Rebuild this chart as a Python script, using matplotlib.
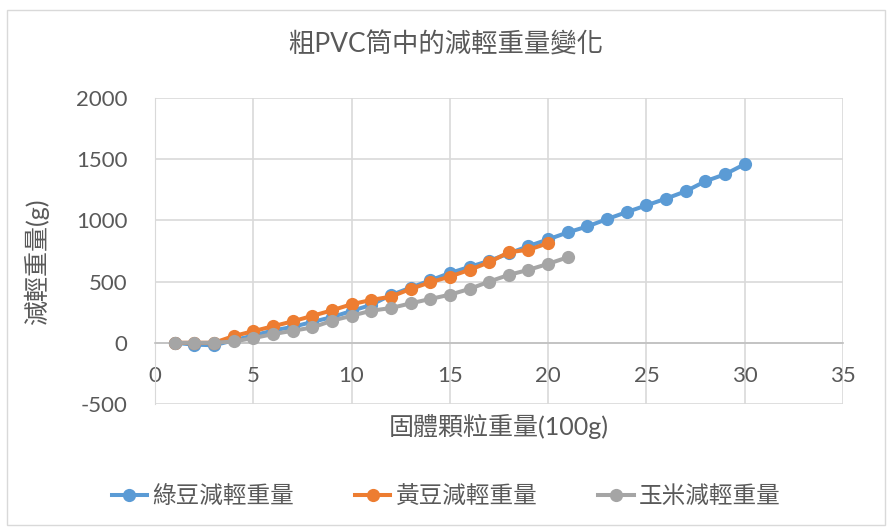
import matplotlib
matplotlib.use('Agg')
import matplotlib.pyplot as plt
from matplotlib.patches import Rectangle

plt.rcParams['font.family'] = ['Lato', 'Noto Sans CJK TC', 'DejaVu Sans']
plt.rcParams['axes.unicode_minus'] = False

# 固體顆粒重量 (100g)
mung_x = list(range(1, 31))
soy_x = list(range(1, 21))
corn_x = list(range(1, 22))

# 減輕重量 (g)
mung = [0, -15, -20, 20, 60, 100, 130, 170, 210, 260,
        310, 390, 450, 510, 570, 620, 670, 730, 790, 845,
        902, 951, 1011, 1068, 1123, 1178, 1238, 1320, 1377, 1459]
soy = [0, 0, 0, 55, 95, 135, 175, 220, 265, 315,
       350, 377, 440, 494, 541, 596, 658, 740, 760, 814]
corn = [0, 0, 0, 11, 38, 71, 98, 125, 180, 221,
        262, 284, 322, 358, 393, 440, 500, 555, 596, 645, 699]

names = ['綠豆減輕重量', '黃豆減輕重量', '玉米減輕重量']
colors = ['#5B9BD5', '#ED7D31', '#A5A5A5']
text_c = '#595959'
grid_c = '#D9D9D9'

fig = plt.figure(figsize=(8.92, 5.31), dpi=100)
ax_l, ax_w = 155 / 892, 688 / 892
ax = fig.add_axes([ax_l, 1 - 404 / 531, ax_w, 306 / 531])

# outer chart border
fig.patches.append(Rectangle((7 / 892, 6 / 531), 878 / 892, 515 / 531,
                             transform=fig.transFigure, fill=False,
                             edgecolor='#D9D9D9', linewidth=1))

for xs, ys, c, n in zip([mung_x, soy_x, corn_x], [mung, soy, corn], colors, names):
    ax.plot(xs, ys, color=c, linewidth=2.9, marker='o', markersize=9.5,
            markeredgewidth=0, label=n, zorder=3)

ax.set_xlim(0, 35)
ax.set_ylim(-500, 2000)
ax.set_xticks(range(0, 36, 5))
ax.set_yticks(range(-500, 2001, 500))
ax.grid(True, color=grid_c, linewidth=1.2)
ax.set_axisbelow(True)

for s in ['top', 'right']:
    ax.spines[s].set_visible(False)
ax.spines['left'].set_color(grid_c)
ax.spines['bottom'].set_position(('data', 0))
ax.spines['bottom'].set_color('#BFBFBF')
ax.spines['bottom'].set_linewidth(1.2)
ax.tick_params(axis='both', length=0, labelsize=16, labelcolor=text_c)
ax.tick_params(axis='y', pad=20)
ax.tick_params(axis='x', pad=17)

fig.text(0.5, 1 - 45 / 531, '粗PVC筒中的減輕重量變化', ha='center', va='center',
         fontsize=19, color=text_c)
fig.text(ax_l + ax_w / 2, 1 - 426 / 531, '固體顆粒重量(100g)', ha='center', va='center',
         fontsize=18, color=text_c)
fig.text(36 / 892, 1 - 262 / 531, '減輕重量(g)', ha='center', va='center',
         rotation=90, fontsize=18, color=text_c)

leg = fig.legend(loc='center', bbox_to_anchor=(0.5, 1 - 496 / 531), ncol=3,
                 frameon=False, fontsize=17, handlelength=1.5,
                 columnspacing=2.6, handletextpad=0.2)
for t in leg.get_texts():
    t.set_color(text_c)

fig.savefig('out.png', dpi=100)
